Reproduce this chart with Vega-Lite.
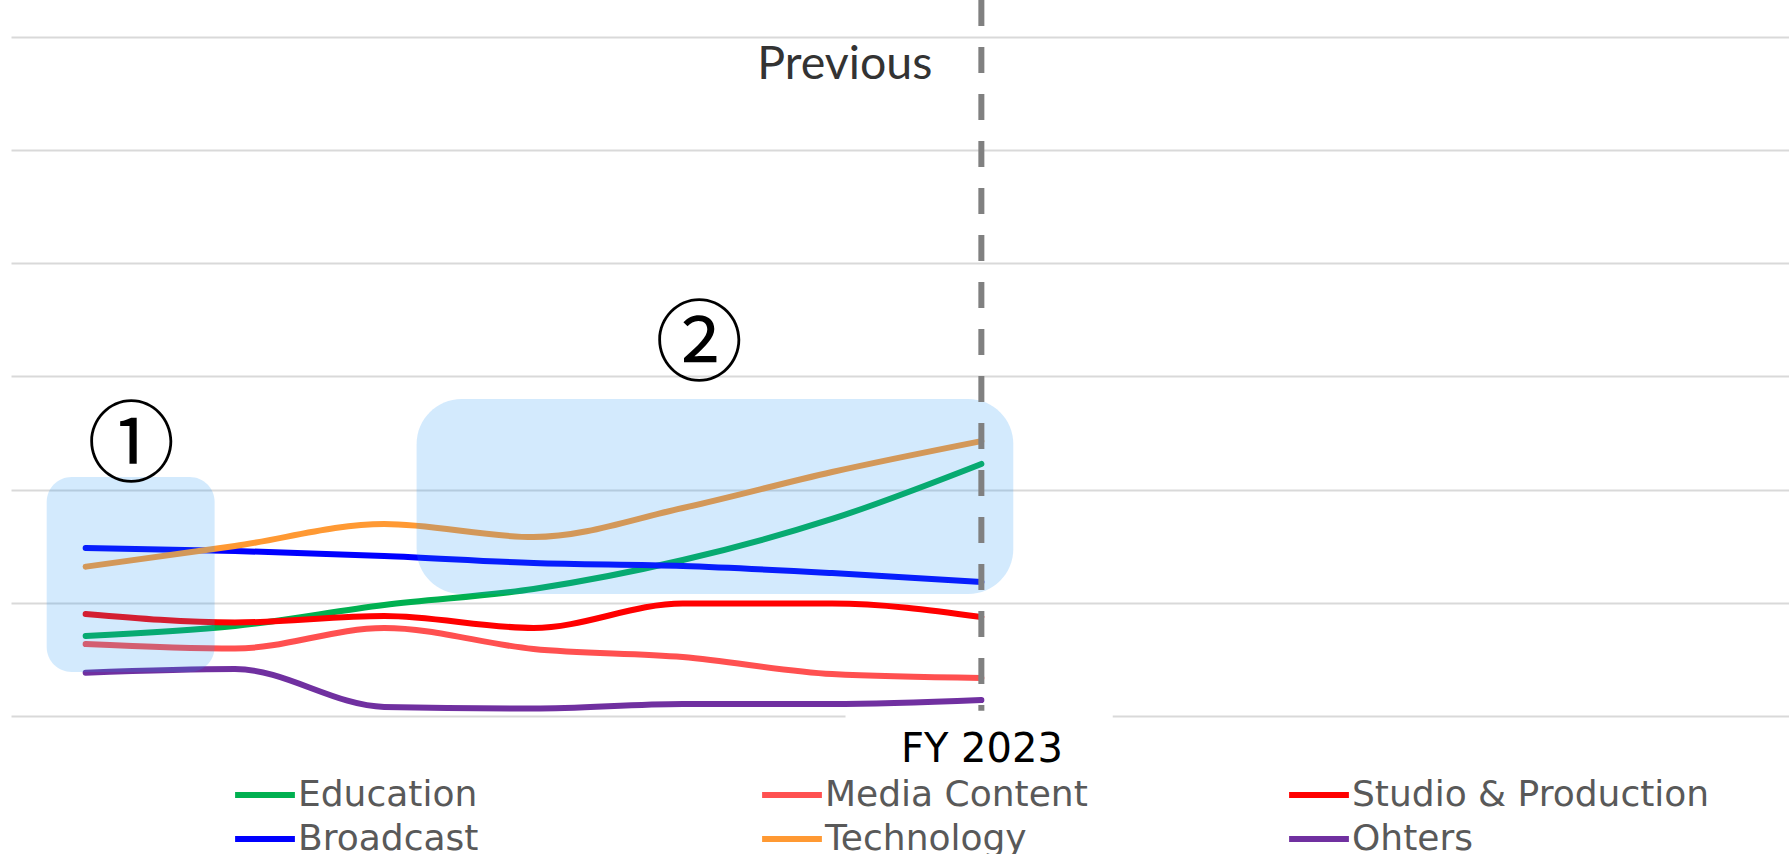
{
  "$schema": "https://vega.github.io/schema/vega-lite/v6.json",
  "autosize": "none",
  "width": 1778,
  "height": 716,
  "padding": {"left": 11, "top": 0, "right": 0, "bottom": 138},
  "background": "white",
  "config": {
    "view": {"stroke": null},
    "legend": {"padding": 0}
  },
  "datasets": {
    "series": [
      {"year": 2017, "value": 70.7, "segment": "Education"},
      {"year": 2018, "value": 79.5, "segment": "Education"},
      {"year": 2019, "value": 98.1, "segment": "Education"},
      {"year": 2020, "value": 112.2, "segment": "Education"},
      {"year": 2021, "value": 137.8, "segment": "Education"},
      {"year": 2022, "value": 174.1, "segment": "Education"},
      {"year": 2023, "value": 222.7, "segment": "Education"},
      {"year": 2017, "value": 63.6, "segment": "Media Content"},
      {"year": 2018, "value": 59.6, "segment": "Media Content"},
      {"year": 2019, "value": 77.8, "segment": "Media Content"},
      {"year": 2020, "value": 59.2, "segment": "Media Content"},
      {"year": 2021, "value": 52.1, "segment": "Media Content"},
      {"year": 2022, "value": 37.1, "segment": "Media Content"},
      {"year": 2023, "value": 33.6, "segment": "Media Content"},
      {"year": 2017, "value": 90.1, "segment": "Studio & Production"},
      {"year": 2018, "value": 82.6, "segment": "Studio & Production"},
      {"year": 2019, "value": 88.4, "segment": "Studio & Production"},
      {"year": 2020, "value": 77.8, "segment": "Studio & Production"},
      {"year": 2021, "value": 99.4, "segment": "Studio & Production"},
      {"year": 2022, "value": 99.4, "segment": "Studio & Production"},
      {"year": 2023, "value": 87.5, "segment": "Studio & Production"},
      {"year": 2017, "value": 148.4, "segment": "Broadcast"},
      {"year": 2018, "value": 145.8, "segment": "Broadcast"},
      {"year": 2019, "value": 141.4, "segment": "Broadcast"},
      {"year": 2020, "value": 135.2, "segment": "Broadcast"},
      {"year": 2021, "value": 132.5, "segment": "Broadcast"},
      {"year": 2022, "value": 126.3, "segment": "Broadcast"},
      {"year": 2023, "value": 118.4, "segment": "Broadcast"},
      {"year": 2017, "value": 131.9, "segment": "Technology"},
      {"year": 2018, "value": 150.2, "segment": "Technology"},
      {"year": 2019, "value": 169.6, "segment": "Technology"},
      {"year": 2020, "value": 158.1, "segment": "Technology"},
      {"year": 2021, "value": 183.8, "segment": "Technology"},
      {"year": 2022, "value": 215.6, "segment": "Technology"},
      {"year": 2023, "value": 242.9, "segment": "Technology"},
      {"year": 2017, "value": 38.3, "segment": "Ohters"},
      {"year": 2018, "value": 41.5, "segment": "Ohters"},
      {"year": 2019, "value": 8.0, "segment": "Ohters"},
      {"year": 2020, "value": 6.6, "segment": "Ohters"},
      {"year": 2021, "value": 10.6, "segment": "Ohters"},
      {"year": 2022, "value": 10.6, "segment": "Ohters"},
      {"year": 2023, "value": 14.1, "segment": "Ohters"}
    ],
    "box1": [{"from": 2016.739, "to": 2017.864, "low": 38.9, "high": 211.2}],
    "box2": [{"from": 2019.217, "to": 2023.214, "low": 107.8, "high": 280.1}],
    "labelBg": [{"from": 2022.09, "to": 2023.88, "low": -8, "high": 4.7}],
    "notes": [
      {"year": 2017.305, "value": 237.1, "label": "①"},
      {"year": 2021.11, "value": 325.8, "label": "②"}
    ],
    "previous": [{"year": 2022.672, "value": 562.6, "label": "Previous"}],
    "divider": [{"year": 2023, "top": 632.6, "bottom": 0}]
  },
  "layer": [
    {
      "data": {"name": "series"},
      "mark": {"type": "line", "interpolate": "monotone", "strokeWidth": 6, "strokeCap": "round", "strokeJoin": "round"},
      "encoding": {
        "x": {
          "field": "year", "type": "quantitative",
          "scale": {"domain": [2016.5, 2028.41], "nice": false, "zero": false},
          "axis": {
            "title": null, "values": [2023], "labelExpr": "'FY ' + datum.value",
            "grid": false, "domain": false, "ticks": false,
            "labelFont": "DejaVu Sans", "labelFontSize": 40, "labelColor": "#000000",
            "labelBaseline": "alphabetic", "labelPadding": 45, "labelFlush": false
          }
        },
        "y": {
          "field": "value", "type": "quantitative",
          "scale": {"domain": [0, 632.6], "nice": false},
          "axis": {
            "title": null, "values": [0, 100, 200, 300, 400, 500, 600],
            "labels": false, "ticks": false, "domain": false,
            "grid": true, "gridColor": "#d9d9d9", "gridWidth": 2
          }
        },
        "color": {
          "field": "segment", "type": "nominal",
          "scale": {
            "domain": ["Education", "Media Content", "Studio & Production", "Broadcast", "Technology", "Ohters"],
            "range": ["#00B050", "#FF5050", "#FF0000", "#0000FF", "#FF9933", "#7030A0"]
          },
          "legend": {
            "title": null, "orient": "none", "legendX": 228, "legendY": 769,
            "direction": "horizontal", "columns": 3, "gridAlign": "all",
            "symbolType": "M-1.3,0H1.3", "symbolSize": 2116, "symbolStrokeWidth": 6,
            "labelFont": "DejaVu Sans", "labelFontSize": 36, "labelColor": "#595959",
            "labelOffset": 7, "labelLimit": 0, "columnPadding": 94, "rowPadding": -40
          }
        }
      }
    },
    {
      "data": {"name": "box1"},
      "mark": {"type": "rect", "color": "#2196F3", "opacity": 0.2, "cornerRadius": 25},
      "encoding": {
        "x": {"field": "from", "type": "quantitative"},
        "x2": {"field": "to"},
        "y": {"field": "low", "type": "quantitative"},
        "y2": {"field": "high"}
      }
    },
    {
      "data": {"name": "box2"},
      "mark": {"type": "rect", "color": "#2196F3", "opacity": 0.2, "cornerRadius": 45},
      "encoding": {
        "x": {"field": "from", "type": "quantitative"},
        "x2": {"field": "to"},
        "y": {"field": "low", "type": "quantitative"},
        "y2": {"field": "high"}
      }
    },
    {
      "data": {"name": "divider"},
      "mark": {"type": "rule", "color": "#808080", "strokeWidth": 6, "strokeDash": [26, 21]},
      "encoding": {
        "x": {"field": "year", "type": "quantitative"},
        "y": {"field": "top", "type": "quantitative"},
        "y2": {"field": "bottom"}
      }
    },
    {
      "data": {"name": "labelBg"},
      "mark": {"type": "rect", "color": "#ffffff", "opacity": 1},
      "encoding": {
        "x": {"field": "from", "type": "quantitative"},
        "x2": {"field": "to"},
        "y": {"field": "low", "type": "quantitative"},
        "y2": {"field": "high"}
      }
    },
    {
      "data": {"name": "previous"},
      "mark": {"type": "text", "align": "right", "baseline": "alphabetic", "font": "Lato", "fontSize": 46.5, "color": "#333333"},
      "encoding": {
        "x": {"field": "year", "type": "quantitative"},
        "y": {"field": "value", "type": "quantitative"},
        "text": {"field": "label"}
      }
    },
    {
      "data": {"name": "notes"},
      "mark": {"type": "text", "align": "center", "baseline": "middle", "font": "Noto Sans CJK JP", "fontSize": 88, "color": "#000000"},
      "encoding": {
        "x": {"field": "year", "type": "quantitative"},
        "y": {"field": "value", "type": "quantitative"},
        "text": {"field": "label"}
      }
    }
  ]
}
